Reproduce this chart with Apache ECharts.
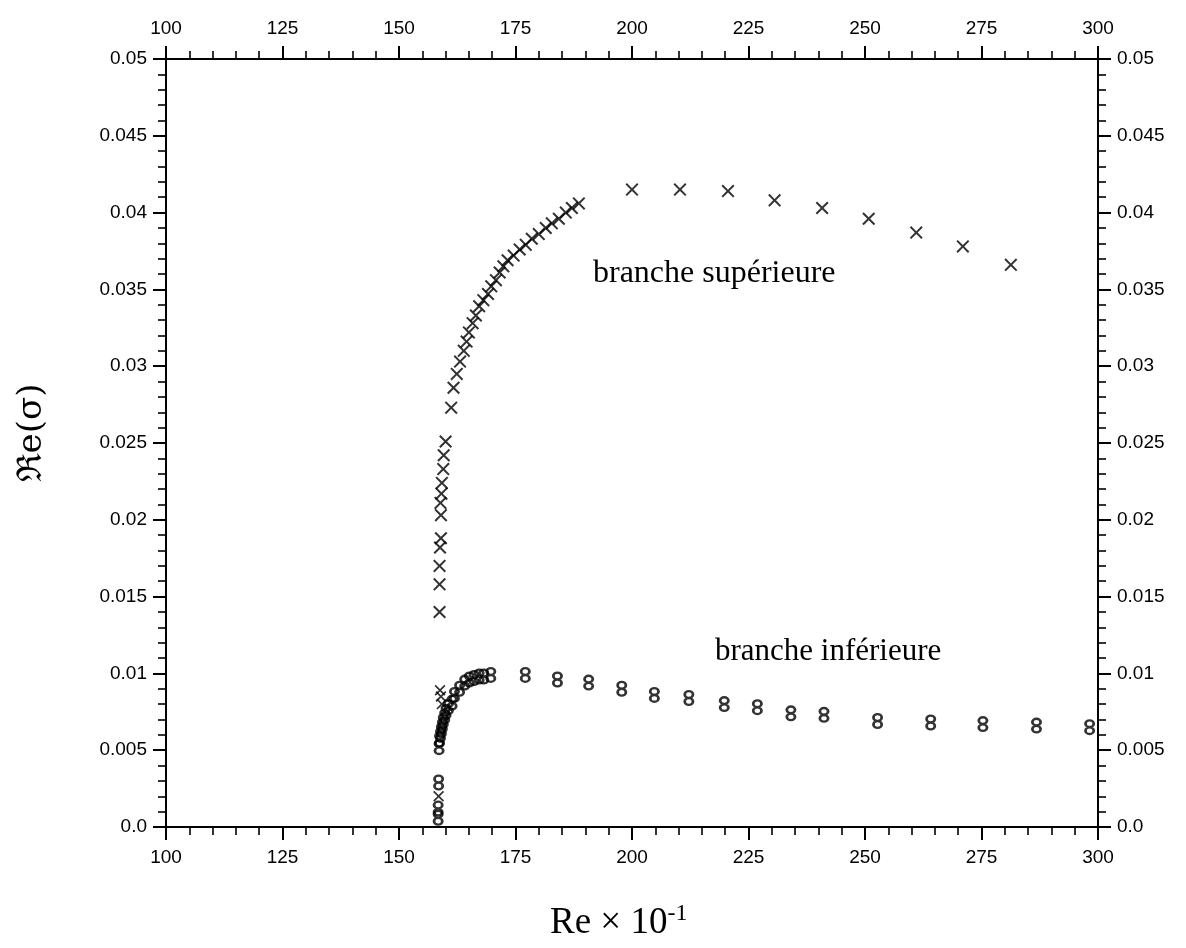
<!DOCTYPE html>
<html><head><meta charset="utf-8">
<script src="https://cdn.jsdelivr.net/npm/echarts@6/dist/echarts.min.js"></script>
<style>html,body{margin:0;padding:0;background:#fff}#c{width:1186px;height:948px}</style>
</head><body><div id="c"></div>
<script>
// Upper branch (×): Re×10^-1 and Re(sigma)
const upperRe = [158.7,158.7,158.7,158.8,159.0,159.0,158.9,159.1,159.2,159.5,159.6,160.0,161.2,161.7,
  162.4,163.1,163.9,164.5,165.0,165.8,166.5,167.2,168.1,169.1,169.8,170.8,171.6,172.4,173.3,174.6,175.9,
  177.2,178.5,180.0,181.5,182.8,184.3,185.8,187.1,188.6,
  200.0,210.3,220.6,230.6,240.8,250.8,261.0,271.0,281.3];
const upperVal = [0.0140,0.0158,0.0170,0.0182,0.0188,0.0203,0.0211,0.0217,0.0224,0.0233,0.0242,0.0251,0.0273,0.0286,
  0.0295,0.0303,0.0310,0.0316,0.0322,0.0328,0.0333,0.0339,0.0343,0.0347,0.0352,0.0356,0.0361,0.0365,0.0369,0.0372,0.0376,
  0.0379,0.0383,0.0386,0.0390,0.0393,0.0396,0.0400,0.0403,0.0406,
  0.0415,0.0415,0.0414,0.0408,0.0403,0.0396,0.0387,0.0378,0.0366];
// Lower branch (o and × superposed, drawn as "8")
const lowerRe = [158.4,158.4,158.5,158.6,158.7,158.9,159.1,159.3,159.5,159.8,160.1,160.6,
  161.4,161.9,163.0,164.1,165.1,166.1,167.2,168.2,169.7,
  177.1,184.0,190.7,197.8,204.8,212.2,219.8,226.9,234.1,241.2,252.7,264.1,275.3,286.8,298.2];
const lowerVal = [0.0006,0.0012,0.0029,0.0052,0.0057,0.0060,0.0063,0.0066,0.0069,0.0072,0.0075,0.0078,
  0.0081,0.0086,0.0090,0.0094,0.0096,0.0097,0.0098,0.0098,0.0099,
  0.0099,0.0096,0.0094,0.0090,0.0086,0.0084,0.0080,0.0078,0.0074,0.0073,0.0069,0.0068,0.0067,0.0066,0.0065];
// single × marks near the threshold on the lower branch
const lowerXRe = [158.5,158.8,159.0,159.2];
const lowerXVal = [0.0020,0.0089,0.0085,0.0080];

const xTicks = [100,125,150,175,200,225,250,275,300];
const yTicks = [0,0.005,0.01,0.015,0.02,0.025,0.03,0.035,0.04,0.045,0.05];

const zip = (a,b)=>a.map((v,i)=>[v,b[i]]);
const X = 'path://M0,1.1L1.1,0L5,3.9L8.9,0L10,1.1L6.1,5L10,8.9L8.9,10L5,6.1L1.1,10L0,8.9L3.9,5Z';
const EIGHT = 'path://M0,4.5a4.5,4.5 0 1,1 9,0a4.5,4.5 0 1,1 -9,0Z M2.3,4.5a2.2,2.2 0 1,0 4.4,0a2.2,2.2 0 1,0 -4.4,0Z'
  + ' M0,11.5a4.5,4.5 0 1,1 9,0a4.5,4.5 0 1,1 -9,0Z M2.3,11.5a2.2,2.2 0 1,0 4.4,0a2.2,2.2 0 1,0 -4.4,0Z';
const tickFont = {fontFamily:'Liberation Sans, Arial, sans-serif', fontSize:19, color:'#000'};
const yFmt = v => v===0 ? '0.0' : String(+v.toFixed(3));
const axStyle = {
  axisLine:{show:true,onZero:false,lineStyle:{color:'#000',width:2}},
  axisTick:{show:true,inside:false,length:13,lineStyle:{color:'#000',width:2}},
  minorTick:{show:true,splitNumber:5,length:8,lineStyle:{color:'#000',width:1.6}},
  splitLine:{show:false}, minorSplitLine:{show:false}};
const xAxisBase = Object.assign({type:'value', min:xTicks[0], max:xTicks[xTicks.length-1], interval:25,
  axisLabel:Object.assign({margin:21},tickFont)}, axStyle);
const yAxisBase = Object.assign({type:'value', min:yTicks[0], max:yTicks[yTicks.length-1], interval:0.005,
  axisLabel:Object.assign({margin:19,formatter:yFmt},tickFont)}, axStyle);

const chart = echarts.init(document.getElementById('c'), null, {renderer:'canvas'});
chart.setOption({
  backgroundColor:'#fff',
  animation:false,
  grid:{left:166,right:88,top:59,bottom:121},
  xAxis:[Object.assign({position:'bottom'},xAxisBase), Object.assign({position:'top'},xAxisBase)],
  yAxis:[Object.assign({position:'left'},yAxisBase), Object.assign({position:'right'},yAxisBase)],
  series:[
    {type:'scatter', data:zip(upperRe,upperVal), symbol:X, symbolSize:13, itemStyle:{color:'#000'}},
    {type:'scatter', data:zip(lowerRe,lowerVal), symbol:EIGHT, symbolSize:[11,16], itemStyle:{color:'#000'}},
    {type:'scatter', data:zip(lowerXRe,lowerXVal), symbol:X, symbolSize:11, itemStyle:{color:'#000'}}
  ],
  graphic:[
    {type:'text', left:593, top:258, style:{text:'branche supérieure', font:'32px "Liberation Serif", serif', fill:'#000'}},
    {type:'text', left:715, top:636, style:{text:'branche inférieure', font:'31px "Liberation Serif", serif', fill:'#000'}},
    {type:'text', left:550, top:902, style:{text:'Re × 10{s|-1}', rich:{s:{font:'24px "Liberation Serif", serif', fill:'#000', padding:[0,0,18,0]}}, font:'37px "Liberation Serif", serif', fill:'#000'}},
    {type:'text', x:32, y:433, rotation:Math.PI/2, style:{text:'ℜe(σ)', font:'34px "DejaVu Serif", serif', fill:'#000', align:'center', verticalAlign:'middle'}}
  ]
});
</script></body></html>
